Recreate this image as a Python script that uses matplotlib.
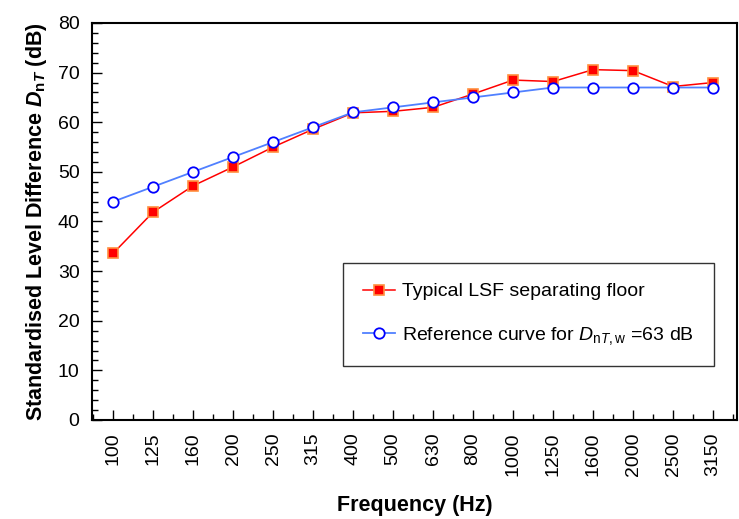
import numpy as np
import matplotlib
matplotlib.use("Agg")
import matplotlib.pyplot as plt
from matplotlib.ticker import MultipleLocator

plt.rcParams["font.family"] = ["Liberation Sans", "DejaVu Sans"]
plt.rcParams["mathtext.fontset"] = "custom"
plt.rcParams["mathtext.rm"] = "Liberation Sans"
plt.rcParams["mathtext.it"] = "Liberation Sans:italic"
plt.rcParams["mathtext.bf"] = "Liberation Sans:bold"
plt.rcParams["mathtext.bfit"] = "Liberation Sans:italic:bold"

freqs = ["100", "125", "160", "200", "250", "315", "400", "500", "630", "800",
         "1000", "1250", "1600", "2000", "2500", "3150"]
lsf_floor = [33.6, 41.9, 47.2, 51.0, 55.0, 58.6, 61.9, 62.2, 63.0, 65.7,
             68.5, 68.2, 70.6, 70.4, 67.2, 68.0]
ref_curve = [44, 47, 50, 53, 56, 59, 62, 63, 64, 65, 66, 67, 67, 67, 67, 67]

x = np.arange(len(freqs))

fig = plt.figure(figsize=(7.39, 5.19), dpi=100)
ax = fig.add_axes([0.1245, 0.1908, 0.8728, 0.7649])

ax.plot(x, lsf_floor, color="red", lw=1.1, marker="s", ms=7.5,
        mfc="red", mec="#ff9040", mew=1.2, label="Typical LSF separating floor")
ax.plot(x, ref_curve, color="#5080ff", lw=1.3, marker="o", ms=7.5,
        mfc="white", mec="blue", mew=1.3,
        label=r"Reference curve for $D_{\mathrm{n}T\mathrm{,w}}$ =63 dB")

ax.set_xlim(-0.53, 15.6)
ax.set_ylim(0, 80)
ax.set_xticks(x)
ax.set_xticklabels(freqs, rotation=90)
ax.xaxis.set_minor_locator(MultipleLocator(0.5))
ax.yaxis.set_major_locator(MultipleLocator(10))
ax.yaxis.set_minor_locator(MultipleLocator(2))
ax.tick_params(which="both", direction="in", labelsize=14, width=1)
ax.tick_params(which="major", length=7, pad=9)
ax.tick_params(which="minor", length=4)
for s in ax.spines.values():
    s.set_linewidth(1.5)

ax.set_xlabel("Frequency (Hz)", fontsize=15.5, fontweight="bold", labelpad=14)
ax.set_ylabel(r"Standardised Level Difference $\mathbfit{D}_{\mathbf{n}\mathbfit{T}}$ (dB)",
              fontsize=15.5, fontweight="bold", labelpad=6)

leg = ax.legend(loc="lower right", bbox_to_anchor=(0.964, 0.136), borderaxespad=0,
                fontsize=14, frameon=True, fancybox=False, edgecolor="black",
                labelspacing=1.25, borderpad=1.0, handlelength=1.65, handletextpad=0.4)
leg.get_frame().set_linewidth(1)

fig.savefig("out.png", dpi=100)
